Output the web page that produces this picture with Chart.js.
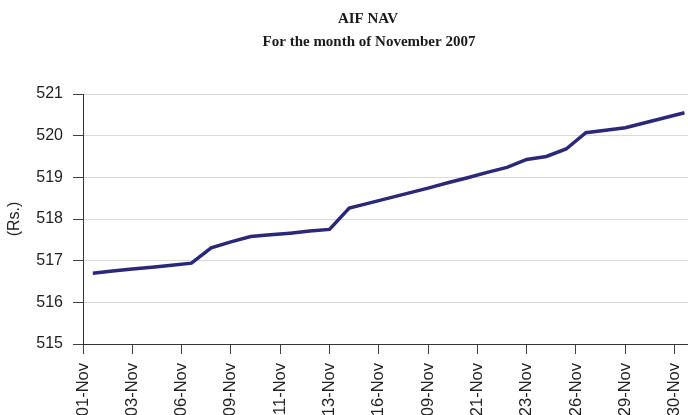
<!DOCTYPE html>
<html>
<head>
<meta charset="utf-8">
<script src="https://cdn.jsdelivr.net/npm/chart.js"></script>
<style>
  body { margin: 0; background: #fff; }
  #wrap { width: 688px; height: 415px; }
</style>
</head>
<body>
<div id="wrap"><canvas id="chart" width="688" height="415"></canvas></div>
<script>
// NAV for each day of the month
const navValues = [
  516.70, 516.75, 516.80, 516.84, 516.89, 516.94, 517.31, 517.45, 517.58, 517.62,
  517.66, 517.71, 517.75, 518.26, 518.38, 518.50, 518.62, 518.74, 518.87, 518.99,
  519.12, 519.24, 519.43, 519.50, 519.68, 520.07, 520.13, 520.19, 520.31, 520.43,
  520.55
];
const tickLabels = ['01-Nov', '03-Nov', '06-Nov', '09-Nov', '11-Nov', '13-Nov', '16-Nov',
  '09-Nov', '21-Nov', '23-Nov', '26-Nov', '29-Nov', '30-Nov'];
const titleLines = ['AIF NAV', 'For the month of November 2007'];

// title drawn by hand so it sits where the original one does
const titlePlugin = {
  id: 'titleLines',
  afterDraw(chart) {
    const c = chart.ctx;
    c.save();
    c.fillStyle = '#1a1a1a';
    c.font = 'bold 15px "Liberation Serif", "Times New Roman", serif';
    c.textAlign = 'center';
    c.textBaseline = 'middle';
    c.fillText(titleLines[0], 368, 19);
    c.fillText(titleLines[1], 369, 42);
    c.restore();
  }
};

const ctx = document.getElementById('chart');

new Chart(ctx, {
  type: 'line',
  data: {
    datasets: [{
      label: 'NAV',
      data: navValues.map((v, i) => ({ x: i, y: v })),
      borderColor: '#2a2878',
      borderWidth: 3.5,
      pointRadius: 0,
      tension: 0,
      fill: false
    }]
  },
  options: {
    responsive: false,
    animation: false,
    layout: { padding: { top: 94, right: 0, left: 0, bottom: 0 } },
    plugins: {
      legend: { display: false },
      tooltip: { enabled: false }
    },
    scales: {
      x: {
        type: 'linear',
        min: -0.5,
        max: 30.18,
        afterFit: (axis) => {
          axis.height = 71;
          axis.paddingLeft = 0;
          axis.paddingRight = 0;
        },
        afterBuildTicks: (axis) => {
          axis.ticks = tickLabels.map((l, k) => ({ value: k * 2.5 - 0.5 }));
        },
        grid: {
          drawOnChartArea: false,
          drawTicks: true,
          tickLength: 10,
          tickColor: '#404040'
        },
        border: { color: '#333', width: 1 },
        ticks: {
          autoSkip: false,
          minRotation: 90,
          maxRotation: 90,
          padding: 9,
          color: '#222',
          font: { family: '"Liberation Sans", Arial, sans-serif', size: 16.5 },
          callback: (value, index) => tickLabels[index]
        }
      },
      y: {
        min: 515,
        max: 521,
        afterFit: (axis) => {
          axis.width = 83;
          axis.paddingTop = 0;
          axis.paddingBottom = 0;
        },
        grid: {
          color: '#d9d9d9',
          tickColor: '#404040',
          tickLength: 10,
          lineWidth: 1
        },
        border: { color: '#333', width: 1 },
        ticks: {
          stepSize: 1,
          padding: 10,
          color: '#222',
          font: { family: '"Liberation Sans", Arial, sans-serif', size: 16 }
        },
        title: {
          display: true,
          text: '(Rs.)',
          color: '#222',
          padding: { top: 5, bottom: 0 },
          font: { family: '"Liberation Sans", Arial, sans-serif', size: 16 }
        }
      }
    }
  },
  plugins: [titlePlugin]
});
</script>
</body>
</html>
